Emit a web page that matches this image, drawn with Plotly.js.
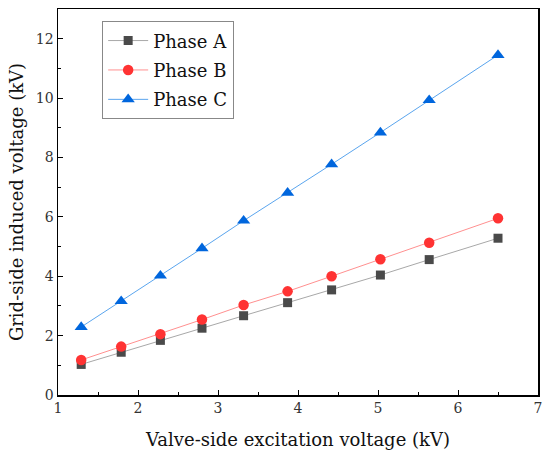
<!DOCTYPE html>
<html><head><meta charset="utf-8">
<script src="https://cdn.plot.ly/plotly-3.0.1.min.js"></script>
<style>html,body{margin:0;padding:0;background:#fff}#chart{width:550px;height:463px}</style>
</head><body><div id="chart"></div>
<script>
const excitation = [1.29, 1.79, 2.28, 2.80, 3.32, 3.87, 4.42, 5.03, 5.64, 6.50];
const phaseA = [1.03, 1.44, 1.84, 2.25, 2.67, 3.11, 3.54, 4.04, 4.56, 5.28];
const phaseB = [1.18, 1.63, 2.05, 2.54, 3.03, 3.49, 4.00, 4.57, 5.13, 5.95];
const phaseC = [2.29, 3.16, 4.02, 4.94, 5.87, 6.81, 7.77, 8.84, 9.93, 11.45];
const seriesNames = ['Phase A', 'Phase B', 'Phase C'];

const font = 'DejaVu Serif';
const traces = [
  {x: excitation, y: phaseA, name: seriesNames[0], legendgroup: 'a', mode: 'lines+markers', type: 'scatter',
   line: {color: '#a8a8a8', width: 1}, marker: {symbol: 'square', size: 9, color: '#4a4a4a'}},
  {x: excitation, y: phaseB, name: seriesNames[1], legendgroup: 'b', mode: 'lines+markers', type: 'scatter',
   line: {color: '#ff9090', width: 1}, marker: {symbol: 'circle', size: 10.5, color: '#ff3333'}},
  {x: excitation, y: phaseC, name: seriesNames[2], legendgroup: 'c', mode: 'lines+markers', type: 'scatter',
   line: {color: '#5aa5ee', width: 1}, marker: {symbol: 'triangle-up', size: 11.5, color: '#0066dd'}}
];
const axisCommon = {
  showgrid: false, zeroline: false, showline: true, linecolor: '#000', linewidth: 1.5,
  mirror: true, ticks: 'inside', ticklen: 5, tickcolor: '#000', tickwidth: 1,
  tickfont: {family: font, size: 14, color: '#333'}
};
const layout = {
  width: 550, height: 463,
  margin: {l: 58, r: 12, t: 9, b: 68},
  paper_bgcolor: '#fff', plot_bgcolor: '#fff',
  font: {family: font},
  showlegend: true,
  legend: {x: 0.092, y: 0.968, xanchor: 'left', yanchor: 'top',
    bordercolor: '#888', borderwidth: 1, bgcolor: '#fff',
    font: {family: font, size: 18, color: '#111'}, tracegroupgap: 3, itemwidth: 40},
  xaxis: Object.assign({}, axisCommon, {range: [1, 7], dtick: 1, tick0: 1,
    minor: {ticks: 'inside', ticklen: 3, dtick: 0.5, tickcolor: '#000'},
    title: {text: 'Valve-side excitation voltage (kV)', font: {family: font, size: 18, color: '#111'}, standoff: 18}}),
  yaxis: Object.assign({}, axisCommon, {range: [0, 13], dtick: 2, tick0: 0,
    minor: {ticks: 'inside', ticklen: 3, dtick: 1, tickcolor: '#000'},
    title: {text: 'Grid-side induced voltage (kV)', font: {family: font, size: 18, color: '#111'}, standoff: 7}})
};
Plotly.newPlot('chart', traces, layout, {displayModeBar: false, staticPlot: true});
</script></body></html>
